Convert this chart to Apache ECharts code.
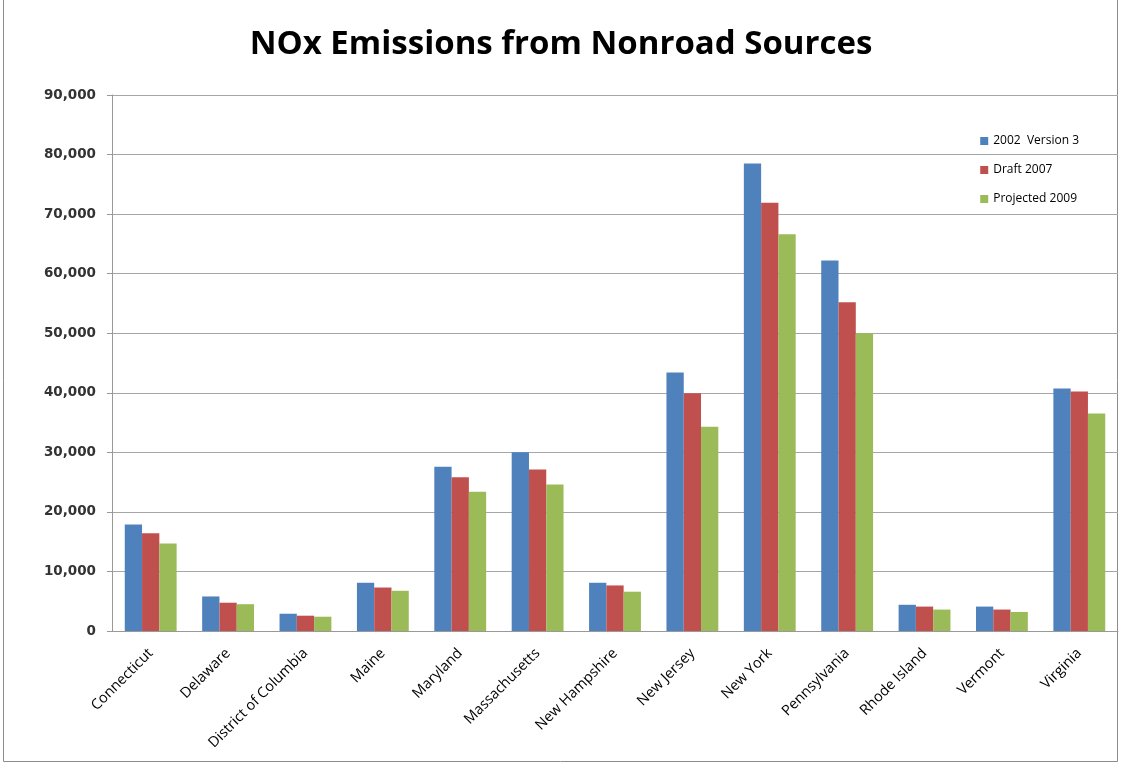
<!DOCTYPE html>
<html>
<head>
<meta charset="utf-8">
<script src="https://cdn.jsdelivr.net/npm/echarts@6/dist/echarts.min.js"></script>
<style>
html,body{margin:0;padding:0;background:#fff;}
#chart{width:1122px;height:767px;}
</style>
</head>
<body>
<div id="chart"></div>
<script>
const categories = ["Connecticut","Delaware","District of Columbia","Maine","Maryland","Massachusetts","New Hampshire","New Jersey","New York","Pennsylvania","Rhode Island","Vermont","Virginia"];
const seriesNames = ["2002  Version 3","Draft 2007","Projected 2009"];
const v2002 = [17900,5800,2900,8100,27600,30000,8100,43400,78500,62200,4400,4100,40700];
const d2007 = [16400,4750,2570,7300,25800,27100,7650,39900,71900,55200,4100,3600,40200];
const p2009 = [14700,4500,2400,6750,23400,24600,6600,34300,66600,50000,3600,3200,36500];
const yTicks = {min:0, max:90000, interval:10000};
const colors = ["#4F81BD","#C0504D","#9BBB59"];

const chart = echarts.init(document.getElementById('chart'));
const mk = (name, data, i) => ({
  name, type:'bar', data, barGap:'0%', barCategoryGap:'33%',
  itemStyle:{color:colors[i]}
});
chart.setOption({
  animation:false,
  title:{text:'NOx Emissions from Nonroad Sources', left:'center', top:23,
    textStyle:{fontFamily:'Open Sans', fontSize:33, fontWeight:'bold', color:'#000'}},
  legend:{orient:'vertical', right:38, top:130, itemWidth:8, itemHeight:8, itemGap:17,
    icon:'rect', textStyle:{fontFamily:'Open Sans', fontSize:12, color:'#000'},
    data:seriesNames},
  grid:{left:112, right:4, top:95, bottom:136},
  xAxis:{type:'category', data:categories,
    axisLine:{lineStyle:{color:'#999'}},
    axisTick:{show:false},
    axisLabel:{rotate:45, interval:0, fontFamily:'Open Sans', fontSize:14.5, color:'#000', margin:20}},
  yAxis:{type:'value', min:yTicks.min, max:yTicks.max, interval:yTicks.interval,
    axisLine:{show:true, lineStyle:{color:'#999'}},
    axisTick:{show:true, length:5, lineStyle:{color:'#999'}},
    splitLine:{lineStyle:{color:'#a6a6a6'}},
    axisLabel:{fontFamily:'DejaVu Sans', fontSize:13.5, fontWeight:'bold', color:'#333', margin:16,
      formatter:v=>v.toLocaleString('en-US')}},
  graphic:[{type:'rect', shape:{x:3.5,y:-5,width:1114,height:766.5},
    style:{fill:'none', stroke:'#8c8c8c', lineWidth:1}}],
  series:[mk(seriesNames[0],v2002,0), mk(seriesNames[1],d2007,1), mk(seriesNames[2],p2009,2)]
});
</script>
</body>
</html>
